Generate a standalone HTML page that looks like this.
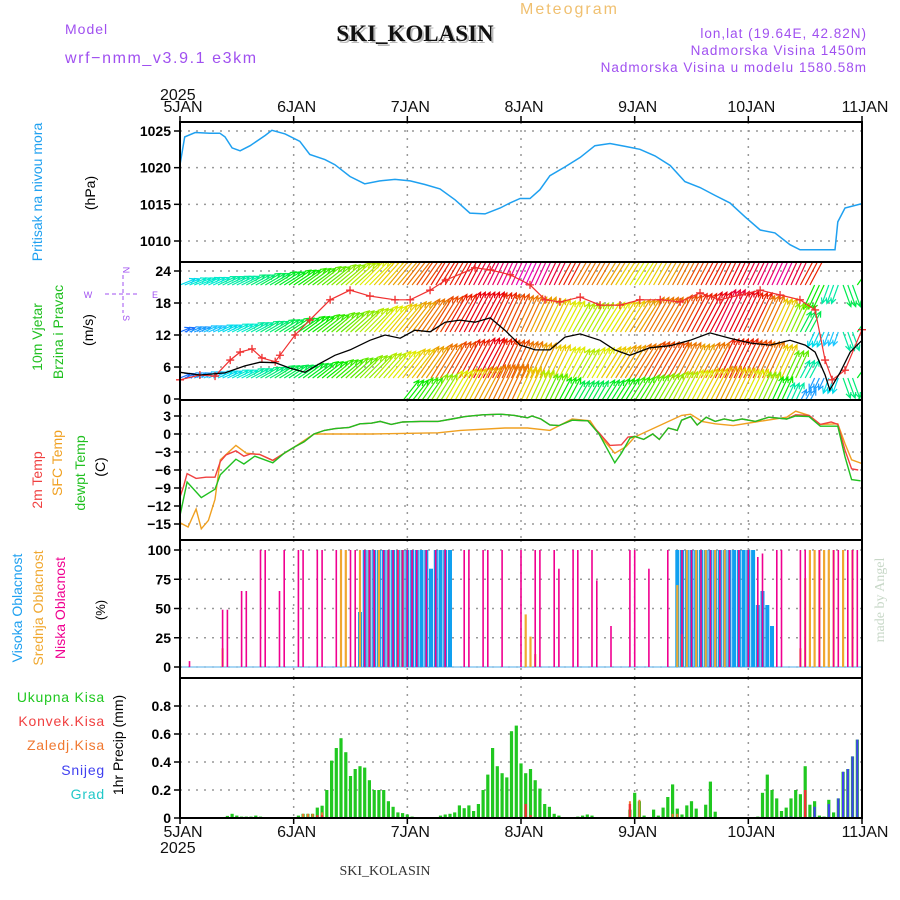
<!DOCTYPE html>
<html><head><meta charset="utf-8"><style>
body{margin:0;background:#fff;}
svg{display:block;font-family:"Liberation Sans",sans-serif;}
.tk{font-size:14px;font-weight:bold;fill:#000;text-anchor:end;}
</style></head><body>
<svg id="chart" width="900" height="900" viewBox="0 0 900 900">
<defs><clipPath id="windclip"><rect x="180" y="262" width="682" height="138"/></clipPath></defs>
<text x="520" y="14" font-size="16" fill="#f0c070" letter-spacing="2">Meteogram</text>
<text x="65" y="34" font-size="14" fill="#a050f0" letter-spacing="1">Model</text>
<text x="65" y="63" font-size="16" fill="#a050f0" letter-spacing="1.6">wrf−nmm_v3.9.1 e3km</text>
<text x="417" y="43" font-size="23" font-weight="bold" font-family="Liberation Serif,serif" text-anchor="middle" fill="#bbb">SKI_KOLASIN</text>
<text x="415" y="41" font-size="23" font-weight="bold" font-family="Liberation Serif,serif" text-anchor="middle" fill="#111">SKI_KOLASIN</text>
<text x="867" y="38" font-size="13.5" fill="#a050f0" text-anchor="end" letter-spacing="1">lon,lat (19.64E, 42.82N)</text>
<text x="867" y="55" font-size="13.5" fill="#a050f0" text-anchor="end" letter-spacing="1">Nadmorska Visina 1450m</text>
<text x="867" y="72" font-size="13.5" fill="#a050f0" text-anchor="end" letter-spacing="1">Nadmorska Visina u modelu 1580.58m</text>
<text x="160" y="100" font-size="16" fill="#111">2025</text>
<text x="160" y="853" font-size="16" fill="#111">2025</text>
<text x="385" y="875" font-size="14" font-family="Liberation Serif,serif" fill="#333" text-anchor="middle">SKI_KOLASIN</text>
<text transform="translate(884,600) rotate(-90)" font-size="14" font-family="Liberation Serif,serif" fill="#c8d8c8" text-anchor="middle">made by Angel</text>

<text transform="translate(42,192) rotate(-90)" font-size="14" fill="#1ea0f0" text-anchor="middle">Pritisak na nivou mora</text>
<text transform="translate(95,193) rotate(-90)" font-size="14" fill="#000" text-anchor="middle">(hPa)</text>
<text transform="translate(42,337) rotate(-90)" font-size="14" fill="#20c020" text-anchor="middle">10m Vjetar</text>
<text transform="translate(63,332) rotate(-90)" font-size="14" fill="#20c020" text-anchor="middle">Brzina i Pravac</text>
<text transform="translate(93,330) rotate(-90)" font-size="14" fill="#000" text-anchor="middle">(m/s)</text>
<g fill="#a050f0" font-size="9" text-anchor="middle">
<text x="88" y="298">W</text><text x="155" y="298">E</text>
<text transform="translate(123,270) rotate(90)">N</text><text transform="translate(123,318) rotate(90)">S</text>
<line x1="105" y1="294" x2="140" y2="294" stroke="#a050f0" stroke-dasharray="4,3"/>
<line x1="123" y1="275" x2="123" y2="313" stroke="#a050f0" stroke-dasharray="4,3"/>
</g>
<text transform="translate(42,480) rotate(-90)" font-size="14" fill="#f04040" text-anchor="middle">2m Temp</text>
<text transform="translate(62,463) rotate(-90)" font-size="14" fill="#f0a020" text-anchor="middle">SFC Temp</text>
<text transform="translate(85,473) rotate(-90)" font-size="14" fill="#20c020" text-anchor="middle">dewpt Temp</text>
<text transform="translate(105,467) rotate(-90)" font-size="14" fill="#000" text-anchor="middle">(C)</text>
<text transform="translate(22,608) rotate(-90)" font-size="14" fill="#1ea0f0" text-anchor="middle">Visoka Oblacnost</text>
<text transform="translate(43,608) rotate(-90)" font-size="14" fill="#f0a830" text-anchor="middle">Srednja Oblacnost</text>
<text transform="translate(65,608) rotate(-90)" font-size="14" fill="#f00090" text-anchor="middle">Niska Oblacnost</text>
<text transform="translate(105,610) rotate(-90)" font-size="13" fill="#000" text-anchor="middle">(%)</text>
<g font-size="14" text-anchor="end" letter-spacing="0.8">
<text x="105" y="702" fill="#20c820">Ukupna Kisa</text>
<text x="105" y="726" fill="#f04040">Konvek.Kisa</text>
<text x="105" y="750" fill="#f07830">Zaledj.Kisa</text>
<text x="105" y="775" fill="#4040f0">Snijeg</text>
<text x="105" y="799" fill="#20c8c8">Grad</text>
</g>
<text transform="translate(123,745) rotate(-90)" font-size="14" fill="#000" text-anchor="middle">1hr Precip (mm)</text>
<g id="plot"></g>
</svg>
<script>
const dayLabels=["5JAN","6JAN","7JAN","8JAN","9JAN","10JAN","11JAN"];
const presTicks=[1010,1015,1020,1025];
const windTicks=[0,6,12,18,24];
const tempTicks=[-15,-12,-9,-6,-3,0,3];
const cloudTicks=[0,25,50,75,100];
const precTicks=[0,0.2,0.4,0.6,0.8];

const presHours=[0,1,3.2,6.3,8.4,9.5,11,12.7,14.8,18,19.4,22.2,25.3,27.4,30.6,32.7,35.9,39,42.2,45.4,48.6,51.7,54.9,58.1,61.2,64.4,67.6,69.7,71.8,73.9,76,78.1,81.3,84.5,87.6,90.8,94,97.1,100.3,103.5,106.6,109.8,113,116.1,119.3,122.5,125.6,128.8,130.9,133,135.1,138.3,138.9,140.4,144];
const presVals=[1020.4,1024.2,1024.8,1024.7,1024.7,1024.2,1022.7,1022.3,1023,1024.4,1025.1,1024.6,1023.6,1021.8,1021.1,1020.4,1018.8,1017.8,1018.2,1018.4,1018.2,1017.7,1017.1,1015.6,1013.8,1013.7,1014.5,1015.2,1015.8,1015.8,1017,1018.9,1020.1,1021.4,1023,1023.3,1022.9,1022.5,1021.6,1020.3,1018.1,1017.3,1016.2,1015.2,1013.3,1011.5,1011.1,1009.5,1008.8,1008.8,1008.8,1008.8,1012.6,1014.5,1015.1];

const windHours=[0,4.2,9.5,13.7,16.9,20.1,23.2,26.4,29.6,32.7,35.9,40.1,43.3,46.5,49.6,52.8,56,59.1,62.3,65.5,68.6,71.8,75,78.1,81.3,84.5,88.7,91.8,95,99.2,103.5,107.7,111.9,116.1,120.4,124.6,128.8,132,134.1,136.2,137.2,139.4,141.5,144];
const windVals=[5,4.5,4.9,6.2,6.9,6.8,5.8,5,6.7,8.2,9.2,11,12,11.4,12.9,12.6,14.4,14.8,14.4,15.2,12.9,10.1,9.2,9.2,11.6,12.2,11,9.2,8.2,9.6,10,11,12.4,11.4,10.5,10.1,11,10.1,8.8,4.5,1.7,5,8.8,11];
const gustHours=[0,4.2,7.4,10.6,12.7,15.2,17.3,20.1,21.1,24.3,27.4,31.7,35.9,40.1,45.4,48.6,52.8,56.1,62.3,65.5,69.7,73.9,77.1,80.2,84.5,88.7,92.9,97.1,101.4,105.6,109.8,114,118.2,122.5,126.7,130.9,134.1,136.2,137.7,140.4,144];
const gustVals=[3.6,4.5,4.3,7.3,8.8,9.4,7.7,7,8.2,12,14.8,18.6,20.4,19.3,18.6,18.6,20.4,22.3,24.6,24.2,23.3,21.4,18.6,18.2,19.1,17.6,17.6,18.6,18.6,18.2,19.9,18.6,19.5,20.4,19.5,18.6,16.7,7.3,3.6,5.4,13];
// wind arrows, 3-hourly, four levels
const arrowDir=[22,22,24,25,26,28,30,32,34,36,38,40,42,45,48,50,52,55,58,60,62,62,64,65,65,65,64,62,60,60,58,58,58,60,60,62,62,62,64,64,64,65,65,65,62,-115,-110,-70,55];
const arrowRow1=[6,7,7,8,8,9,10,11,12,13,14,15,16,17,18,19,20,21,22,22,23,24,25,26,27,26,24,22,20,20,19,18,17,18,19,20,21,22,22,23,24,25,26,24,22,12,8,10,12];
const arrowRow2=[3,4,5,6,7,8,9,10,11,12,13,14,15,16,17,18,19,20,21,22,23,23,22,21,20,19,18,17,16,16,17,18,19,20,20,21,22,23,24,23,22,20,18,15,10,6,5,8,10];
const arrowRow3=[3,4,5,6,7,8,9,10,10,11,12,13,14,15,16,17,18,19,20,21,22,23,22,21,20,19,18,17,16,17,18,19,20,21,21,20,19,20,22,22,21,20,18,14,8,4,6,9,11];
const arrowRow4=[0,0,0,0,0,0,0,0,0,0,0,0,0,0,0,0,12,13,15,17,18,19,20,20,18,16,14,12,10,10,11,12,13,14,15,16,17,18,19,18,17,15,12,8,4,3,5,8,10];

const t2Hours=[0,0.75,1.5,3.4,5.5,7.4,8.5,9.7,11.8,13.5,14.9,16.8,19.6,22,24.3,26.2,28.3,30.5,32.8,35.7,38,40.4,42.3,44.6,47,50.8,54.5,57.4,60.2,63.9,67.7,70.6,73.4,74.3,76.2,78.1,80,82.8,86.1,88.5,90.8,93.2,94.6,96,97.9,99.8,101.2,103.1,105,105.9,107.8,109.2,111.1,113,114.9,116.8,118.7,121.5,124.3,128.1,130,132.8,135.2,137.5,138.9,140.4,141.8,143.2];
const t2Vals=[-10.5,-8.7,-6.6,-7.4,-7.2,-7.2,-4.6,-3.5,-2.8,-3.7,-3.3,-3.4,-4.4,-3.2,-2.1,-1.3,0,0.6,0.9,1.1,1.7,1.8,2.1,1.6,2,2.1,2.1,2.5,2.9,3.2,3.3,3.1,2.7,3,2.5,1.5,1.4,2.3,2.2,0.2,-1.9,-1.8,-0.5,-0.4,-0.9,0,-0.9,1,0.6,2.3,2.9,1.5,2.8,2.1,2.5,2.2,2.5,2.1,2.8,2.5,3.2,3.1,1.6,2,1.6,-2.7,-5.8,-6];
const sfcHours=[0,1.7,3.4,4.5,6,7.4,8.5,11.8,14,16.8,19.6,24.3,28.3,30.5,40.4,54.5,59.2,68.6,73.4,78.1,82.8,86.6,88.9,91.8,94.2,96,105.9,107.8,110.2,113,116.8,121.5,128.1,130,132.8,135.2,138.9,140.4,141.8,143.9];
const sfcVals=[-14.8,-15.5,-12.5,-15.8,-14.4,-10.9,-4.3,-1.9,-3.2,-3.4,-4.4,-2.1,0,0,0,0.2,0.6,1,1,0.6,2.5,2.2,-0.5,-3.2,-2.1,-0.5,3.1,3.3,2.1,1.7,1.4,2,2.8,3.8,3.1,1.6,1.7,-1.6,-4.3,-4.9];
const dewHours=[0,1.5,4.5,7.4,8.5,11.8,13.5,15.8,19.6,22,24.3,26.2,28.3,30.5,32.8,35.7,38,40.4,42.3,44.6,47,50.8,54.5,57.4,60.2,63.9,67.7,70.6,73.4,74.3,76.2,78.1,80,82.8,86.1,88.5,91.8,93.2,95,96,97.9,99.8,101.2,103.1,105,105.9,107.8,109.2,111.1,113,114.9,116.8,118.7,121.5,124.3,128.1,130,132.8,135.2,138.9,140.4,141.8,143.7];
const dewVals=[-13.6,-8,-10.6,-9.2,-6.8,-4.2,-5,-3.7,-4.8,-3.2,-2.1,-1.3,0,0.6,0.9,1.1,1.7,1.8,2.1,1.6,2,2.1,2.1,2.5,2.9,3.2,3.3,3.1,2.7,3,2.5,1.5,1.4,2.3,2.2,0,-4.8,-3.2,-0.7,-0.4,-0.9,0,-0.9,1,0.6,2.3,2.9,1.5,2.8,2.1,2.5,2.2,2.5,2.1,2.8,2.5,3,2.9,1.3,1.3,-3.8,-7.6,-7.8];

const lowHours=[2,9,10,13,14,17,18,21,22,25,26,29,30,33,36,37,39,40,41,43,44,45,46,47,48,49,50,52,54,56,60,61,64,65,68,72,75,76,79,80,83,84,87,88,91,95,96,99,103,106,108,110,112,114,116,118,120,122,123,126,127,131,132,135,138,139,141,142,143];
const lowVals=[5,49,49,65,65,100,100,65,100,100,100,100,100,100,100,100,100,100,100,100,100,100,100,100,100,100,100,100,100,100,100,100,100,100,100,100,100,100,100,84,100,100,100,74,35,100,100,84,100,100,100,100,100,100,100,100,100,94,97,100,100,100,100,100,100,100,100,100,100];
const midHours=[9,34,35,38,40,42,44,46,47,73,74,75,105,106,107,109,111,113,115,131,132,133,134,135,136,137,138,140,142];
const midVals=[16,100,100,100,100,100,100,100,100,45,26,11,70,28,100,100,100,100,100,16,76,100,100,100,100,100,100,100,100];
const highHours=[38,39,40,41,42,43,44,45,46,47,48,49,50,51,52,53,54,55,56,57,105,106,107,108,109,110,111,112,113,114,115,116,117,118,119,120,121,122,123,124,125];
const highVals=[47,100,100,100,100,100,100,100,100,100,100,100,100,100,100,84,100,100,100,100,100,100,100,100,100,100,100,100,100,100,100,100,100,100,100,100,100,53,65,53,35];

const precHours=[10,11,12,13,14,15,16,17,25,26,27,28,29,30,31,32,33,34,35,36,37,38,39,40,41,42,43,44,45,46,47,48,49,55,56,57,58,59,60,61,62,63,64,65,66,67,68,69,70,71,72,73,74,75,76,77,78,79,80,84,85,86,87,95,96,97,98,100,101,102,103,104,105,106,107,108,109,111,112,113,122,123,124,125,126,127,128,129,130,131,132,133,134,135,136,137,138,139,140,141,142,143];
const precVals=[.015,.03,.017,.01,.01,.01,.017,.01,.017,.03,.03,.03,.074,.088,.2,.41,.5,.57,.47,.3,.35,.37,.36,.27,.2,.2,.2,.12,.08,.04,.035,.025,.01,.017,.025,.03,.04,.09,.07,.09,.05,.1,.2,.31,.5,.37,.32,.29,.62,.66,.39,.32,.35,.27,.21,.1,.08,.03,.017,.01,.017,.025,.017,.06,.18,.12,.017,.06,.017,.074,.15,.24,.067,.025,.09,.12,.067,.095,.26,.045,.01,.18,.31,.2,.14,.05,.074,.14,.2,.17,.37,.095,.12,.017,.01,.13,.04,.14,.33,.35,.44,.56];
const frzHours=[26,27,28,30,95,97,104,105];
const frzVals=[.03,.03,.03,.04,.12,.13,.03,.03];
const convHours=[29,30,73,74,95,132];
const convVals=[.02,.02,.1,.02,.1,.2];
const snowHours=[128,129,134,137,139,140,141,142,143];
const snowVals=[.01,.01,.08,.1,.14,.33,.35,.44,.56];

const NS='http://www.w3.org/2000/svg';
const plot=document.getElementById('plot');
const X0=180,X1=862,HRS=144;
function X(h){return X0+h*(X1-X0)/HRS;}
function mk(tag,attrs,parent){const e=document.createElementNS(NS,tag);for(const k in attrs)e.setAttribute(k,attrs[k]);(parent||plot).appendChild(e);return e;}
function lin(v0,y0,v1,y1){return v=>y0+(v-v0)*(y1-y0)/(v1-v0);}
const Yp=lin(1010,241,1025,131), Yw=lin(0,399,24,271), Yt=lin(0,434,3,416), Yc=lin(0,667,100,550), Yr=lin(0,818,0.8,706);
const panels=[[122,262,presTicks,Yp,'pressure'],[262,400,windTicks,Yw,'wind'],[400,540,tempTicks,Yt,'temperature'],[540,678,cloudTicks,Yc,'cloud'],[678,818,precTicks,Yr,'precip']];

panels.forEach(p=>{
  const g=mk('g',{});
  
  
  p[2].forEach(t=>{const y=p[3](t);
    if(y>p[0]+2&&y<p[1]-2){const l=mk('line',{x1:X0,x2:X1,y1:y,y2:y,stroke:'#999','stroke-width':1.5,'stroke-dasharray':'2,6'},g);}
    const tk=mk('line',{x1:X0-6,x2:X0,y1:y,y2:y,stroke:'#000','stroke-width':1.5},g);
    
    const tx=mk('text',{x:X0-9,y:y+5,class:'tk'},g);
    
    tx.textContent=(p[4]==='temperature'&&t<0)?'−'+(-t):String(t);
  });
  for(let d=1;d<6;d++){const l=mk('line',{x1:X(d*24),x2:X(d*24),y1:p[0],y2:p[1],stroke:'#999','stroke-width':1.5,'stroke-dasharray':'2,6'},g);}
});
dayLabels.forEach((d,i)=>{
  [[112,'top'],[837,'bottom']].forEach(([y,pos])=>{
    const t=mk('text',{x:X(i*24)+3,y:y,'font-size':16,'text-anchor':'middle',fill:'#111'});
    t.textContent=d;
    const tk=mk('line',{x1:X(i*24),x2:X(i*24),y1:pos==='top'?116:818,y2:pos==='top'?122:824,stroke:'#000','stroke-width':1.5});
    
  });
});
function pathFrom(hs,vs,Y){let s='';const n=Math.min(hs.length,vs.length);for(let i=0;i<n;i++)s+=(i?'L':'M')+X(hs[i]).toFixed(1)+','+Y(vs[i]).toFixed(1);return s;}
const pl=mk('path',{d:pathFrom(presHours,presVals,Yp),fill:'none',stroke:'#1ea0f0','stroke-width':1.5});


// wind arrows
const wg=mk('g',{'clip-path':'url(#windclip)'});

const rows=[[arrowRow1,285],[arrowRow2,332],[arrowRow3,378],[arrowRow4,401]];
function spdColor(s){let h=250-s*11;if(h<0)h+=360;return 'hsl('+h+',100%,'+(h>190&&h<290?55:46)+'%)';}
rows.forEach(([sp,base])=>{
  for(let i=0;i<sp.length;i++){const s=sp[i];if(!s)continue;
    for(let k=0;k<3;k++){const h=i*3+k-1;if(h<0||h>144)continue;
      const a=arrowDir[i]*Math.PI/180,L=6+s*1.7,x=X(h),y=base,x2=x+L*Math.cos(a),y2=y-L*Math.sin(a);
      const c=spdColor(s);
      const ar=mk('path',{d:'M'+x.toFixed(1)+','+y+'L'+x2.toFixed(1)+','+y2.toFixed(1)+
        'M'+(x2-6*Math.cos(a-0.45)).toFixed(1)+','+(y2+6*Math.sin(a-0.45)).toFixed(1)+'L'+x2.toFixed(1)+','+y2.toFixed(1)+
        'L'+(x2-6*Math.cos(a+0.45)).toFixed(1)+','+(y2+6*Math.sin(a+0.45)).toFixed(1),fill:'none',stroke:c,'stroke-width':1.2},wg);
      
    }}
});
const gl=mk('path',{d:pathFrom(gustHours,gustVals,Yw),fill:'none',stroke:'#f03030','stroke-width':1.2});

gustHours.forEach((h,i)=>{const x=X(h),y=Yw(gustVals[i]);
  const m=mk('path',{d:`M${x-4},${y}h8M${x},${y-4}v8`,stroke:'#f03030','stroke-width':1.3});
  });
const wl=mk('path',{d:pathFrom(windHours,windVals,Yw),fill:'none',stroke:'#000','stroke-width':1.3});


const sl=mk('path',{d:pathFrom(sfcHours,sfcVals,Yt),fill:'none',stroke:'#f0a020','stroke-width':1.4});

const tl=mk('path',{d:pathFrom(t2Hours,t2Vals,Yt),fill:'none',stroke:'#f04040','stroke-width':1.4});

const dl=mk('path',{d:pathFrom(dewHours,dewVals,Yt),fill:'none',stroke:'#20c020','stroke-width':1.4});


function bars(hs,vs,Y,w,color,name){
  for(let i=0;i<Math.min(hs.length,vs.length);i++){const y=Y(vs[i]),y0=Y(0);
    const r=mk('rect',{x:(X(hs[i])-w/2).toFixed(1),y:y.toFixed(1),width:w,height:Math.max(0.5,y0-y).toFixed(1),fill:color});
    }
}
const cb=mk('line',{x1:X0+2,x2:X1,y1:Yc(0),y2:Yc(0),stroke:'#8cc8f0','stroke-width':1.5});

bars(highHours,highVals,Yc,4,'#10a0f0','high-cloud-bar');
bars(midHours,midVals,Yc,2.2,'#f0a830','mid-cloud-bar');
bars(lowHours,lowVals,Yc,1.6,'#f00090','low-cloud-bar');

bars(precHours,precVals,Yr,3.2,'#20c820','total-precip-bar');
bars(frzHours,frzVals,Yr,2,'#f07830','freezing-precip-bar');
bars(convHours,convVals,Yr,2.4,'#f03030','convective-precip-bar');
bars(snowHours,snowVals,Yr,2.2,'#4040f0','snow-bar');

panels.forEach(p=>{const f=mk('rect',{x:X0,y:p[0],width:X1-X0,height:p[1]-p[0],fill:'none',stroke:'#000','stroke-width':2});
  });
</script>
</body></html>
